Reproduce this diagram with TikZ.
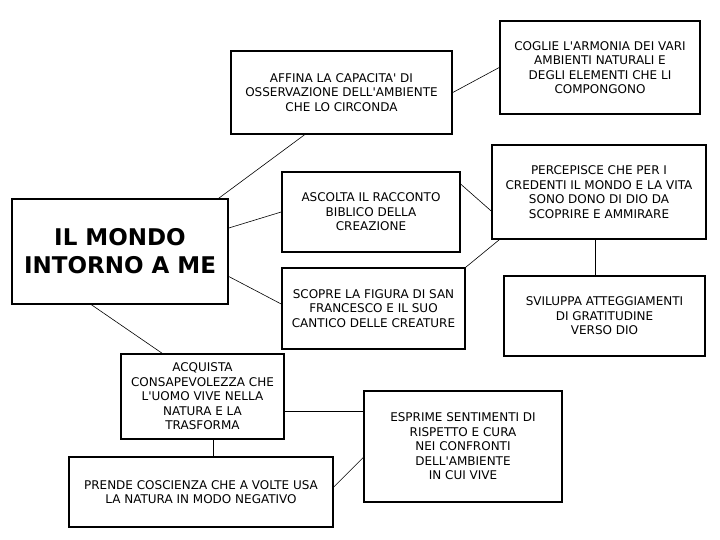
\documentclass[tikz,border=0pt]{standalone}
\usepackage{fontspec}
\setmainfont{DejaVu Sans}
\newcommand{\ap}{\textquotesingle}
\begin{document}
\begin{tikzpicture}[x=1pt,y=-1pt,
  box/.style={draw=black,line width=1.6pt,fill=white,inner sep=0pt,align=center,
    font=\fontsize{12}{14.5}\selectfont},
  link/.style={draw=black,line width=0.6pt}]
\useasboundingbox[fill=white] (0,0) rectangle (720,540);
\node[box,minimum width=216pt,minimum height=105pt,font=\fontsize{23}{28}\selectfont\bfseries] (mondo) at (120,251.5) {IL MONDO\\INTORNO A ME};
\node[box,minimum width=221pt,minimum height=83pt] (affina) at (341.5,92.5) {AFFINA LA CAPACITA\ap{} DI\\OSSERVAZIONE DELL\ap{}AMBIENTE\\CHE LO CIRCONDA};
\node[box,minimum width=200pt,minimum height=93pt] (coglie) at (600,67.5) {COGLIE L\ap{}ARMONIA DEI VARI\\AMBIENTI NATURALI E\\DEGLI ELEMENTI CHE LI\\COMPONGONO};
\node[box,minimum width=178pt,minimum height=80pt] (ascolta) at (371,212) {ASCOLTA IL RACCONTO\\BIBLICO DELLA\\CREAZIONE};
\node[box,minimum width=183pt,minimum height=81pt] (scopre) at (373.5,308.5) {SCOPRE LA FIGURA DI SAN\\FRANCESCO E IL SUO\\CANTICO DELLE CREATURE};
\node[box,minimum width=214pt,minimum height=94pt] (percepisce) at (599,192) {PERCEPISCE CHE PER I\\CREDENTI IL MONDO E LA VITA\\SONO DONO DI DIO DA\\SCOPRIRE E AMMIRARE};
\node[box,minimum width=201pt,minimum height=80pt] (sviluppa) at (604.5,316) {SVILUPPA ATTEGGIAMENTI\\DI GRATITUDINE\\VERSO DIO};
\node[box,minimum width=163pt,minimum height=85pt] (acquista) at (202.5,396.5) {ACQUISTA\\CONSAPEVOLEZZA CHE\\L\ap{}UOMO VIVE NELLA\\NATURA E LA\\TRASFORMA};
\node[box,minimum width=264pt,minimum height=70pt] (prende) at (201,492) {PRENDE COSCIENZA CHE A VOLTE USA\\LA NATURA IN MODO NEGATIVO};
\node[box,minimum width=198pt,minimum height=111pt] (esprime) at (463,446.5) {ESPRIME SENTIMENTI DI\\RISPETTO E CURA\\NEI CONFRONTI\\DELL\ap{}AMBIENTE\\IN CUI VIVE};
\draw[link] ([xshift=-10pt]mondo.north east) -- ([xshift=-37pt]affina.south);
\draw[link] ([yshift=23.5pt]mondo.east) -- (ascolta.west);
\draw[link] ([yshift=-25pt]mondo.east) -- ([yshift=4.5pt]scopre.west);
\draw[link] ([xshift=-28.5pt]mondo.south) -- ([xshift=-40.5pt]acquista.north);
\draw[link] (affina.east) -- (coglie.west);
\draw[link] ([yshift=-13pt]ascolta.north east) -- ([yshift=-19pt]percepisce.west);
\draw[link] (scopre.north east) -- ([xshift=8pt]percepisce.south west);
\draw[link] ([xshift=-4pt]percepisce.south) -- ([xshift=-4pt]percepisce.south |- sviluppa.north);
\draw[link] ([yshift=-14.5pt]acquista.east) -- ([yshift=-14.5pt]acquista.east -| esprime.west);
\draw[link] ([xshift=10.5pt]acquista.south) -- ([xshift=10.5pt]acquista.south |- prende.north);
\draw[link] ([yshift=5pt]prende.east) -- ([yshift=-11pt]esprime.west);
\end{tikzpicture}
\end{document}
